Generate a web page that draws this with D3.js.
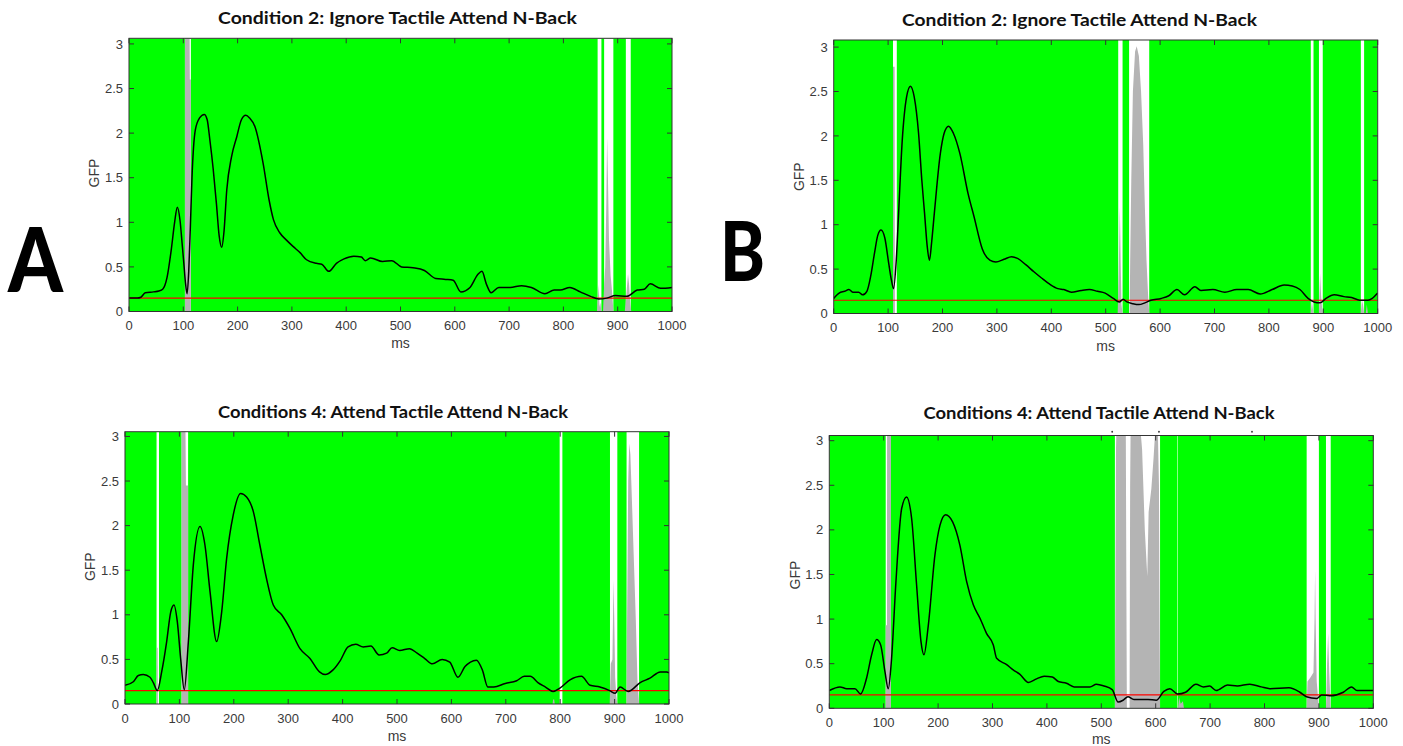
<!DOCTYPE html>
<html>
<head>
<meta charset="utf-8">
<script src="https://cdn.jsdelivr.net/npm/d3@7"></script>
<style>
  html, body { margin: 0; padding: 0; background: #fff; }
  svg { display: block; }
</style>
</head>
<body>
<svg id="chart" width="1403" height="746"></svg>
<script>
// ---------------- DATA ----------------
const xTicks = [0, 100, 200, 300, 400, 500, 600, 700, 800, 900, 1000];
const yTicks = [0, 0.5, 1, 1.5, 2, 2.5, 3];
const yTickLabels = ["0", "0.5", "1", "1.5", "2", "2.5", "3"];
const xLabel = "ms";
const yLabel = "GFP";
const threshold = 0.15;
const panelLetters = ["A", "B"];

const titleA1 = "Condition 2: Ignore Tactile Attend N-Back";
const titleB1 = "Condition 2: Ignore Tactile Attend N-Back";
const titleA2 = "Conditions 4: Attend Tactile Attend N-Back";
const titleB2 = "Conditions 4: Attend Tactile Attend N-Back";

// GFP traces [ms, value]
const gfpA1 = [[0,0.15],[15,0.15],[22,0.16],[30,0.21],[45,0.22],[55,0.23],[62,0.25],[70,0.38],[78,0.7],[84,1.0],[89,1.17],[94,1.02],[98,0.75],[101,0.54],[104,0.32],[107,0.2],[110,0.45],[113,0.95],[116,1.5],[122,2.03],[130,2.17],[138.7,2.21],[144,2.15],[149,1.92],[155,1.6],[161,1.21],[166,0.85],[170.7,0.72],[175,0.9],[180,1.36],[189,1.74],[198.5,1.96],[207,2.15],[215,2.2],[222,2.17],[232,2.07],[247,1.66],[258,1.25],[266,1.03],[278,0.88],[290,0.8],[302,0.73],[315,0.66],[327,0.58],[345,0.54],[355,0.53],[368,0.45],[382,0.54],[396,0.59],[414,0.62],[428,0.61],[435,0.57],[445,0.6],[467,0.56],[484,0.57],[502,0.5],[523,0.49],[544,0.46],[565,0.37],[583,0.36],[597,0.35],[611,0.22],[628,0.27],[643,0.42],[650,0.45],[658,0.31],[667,0.21],[681,0.27],[702,0.27],[723,0.29],[741,0.27],[766,0.2],[783,0.24],[794,0.24],[812,0.27],[831,0.22],[850,0.17],[865,0.14],[880,0.15],[896,0.18],[917,0.17],[936,0.24],[949,0.25],[960,0.31],[979,0.26],[1000,0.27]];

const gfpB1 = [[0,0.17],[10,0.23],[20,0.25],[28,0.27],[35,0.24],[46,0.24],[53,0.21],[61,0.25],[68,0.42],[75,0.68],[81,0.88],[87,0.94],[94,0.85],[101,0.57],[106,0.38],[110,0.28],[115,0.6],[119,1.09],[126,1.95],[134,2.44],[141,2.56],[148,2.44],[156,2.03],[162,1.5],[167,1.13],[172,0.75],[176,0.6],[180,0.8],[185,1.13],[196,1.8],[203,2.03],[211,2.11],[220,2.03],[232,1.8],[247,1.35],[258,1.09],[273,0.73],[287,0.6],[298,0.58],[313,0.61],[327,0.64],[338,0.62],[353,0.55],[368,0.47],[382,0.4],[397,0.33],[412,0.28],[423,0.27],[437,0.24],[455,0.26],[470,0.27],[485,0.25],[499,0.23],[514,0.17],[525,0.13],[532,0.16],[539,0.13],[550,0.11],[561,0.1],[572,0.12],[583,0.15],[602,0.17],[616,0.2],[631,0.27],[645,0.21],[664,0.3],[675,0.26],[697,0.27],[719,0.24],[741,0.27],[762,0.27],[784,0.22],[806,0.27],[828,0.32],[843,0.31],[857,0.27],[872,0.17],[883,0.13],[894,0.12],[905,0.17],[920,0.21],[938,0.19],[952,0.18],[967,0.15],[982,0.15],[990,0.17],[1000,0.23]];

const gfpA2 = [[0,0.21],[15.3,0.25],[24.5,0.32],[33.7,0.33],[46,0.3],[52,0.24],[59.4,0.15],[67.4,0.36],[76.6,0.7],[84,1.03],[90,1.11],[96.2,0.92],[102.3,0.51],[109,0.16],[116.5,0.7],[125.6,1.56],[137.9,1.99],[147,1.78],[156.3,1.26],[168.5,0.7],[177.7,1.03],[186.8,1.63],[199,2.12],[212.5,2.36],[223.5,2.32],[235.8,2.16],[248,1.78],[260,1.41],[272.6,1.11],[288,1.0],[303,0.85],[321.7,0.62],[340,0.51],[357.5,0.36],[368,0.33],[382,0.38],[396,0.49],[410,0.64],[424,0.67],[438,0.64],[452,0.65],[467,0.55],[481,0.57],[491,0.63],[505,0.6],[523,0.62],[537,0.57],[551,0.51],[565,0.45],[583,0.5],[597,0.47],[612,0.3],[625,0.42],[635,0.47],[646,0.49],[657,0.38],[667,0.19],[678,0.19],[699,0.23],[720,0.26],[734,0.31],[745,0.31],[759,0.24],[773,0.19],[787,0.14],[800,0.18],[818,0.27],[839,0.31],[855,0.21],[873,0.19],[891,0.15],[901,0.12],[910,0.19],[925,0.14],[947,0.24],[965,0.29],[984,0.36],[996,0.36],[1000,0.35]];

const gfpB2 = [[0,0.2],[19.6,0.24],[32,0.22],[47.2,0.22],[57.6,0.16],[68.6,0.34],[77.8,0.6],[87,0.77],[94.4,0.71],[102.3,0.41],[108.4,0.22],[114.5,0.56],[122.5,1.42],[133,2.24],[142,2.37],[151.3,2.13],[160.5,1.38],[168.5,0.75],[174,0.6],[182,0.93],[194.2,1.72],[203.4,2.05],[213.8,2.17],[226.7,2.09],[240,1.83],[252.5,1.42],[264.7,1.16],[277,1.01],[289,0.84],[301.5,0.71],[307.6,0.56],[326,0.49],[338,0.43],[350.5,0.38],[366,0.29],[381,0.33],[395,0.36],[410,0.35],[421,0.3],[436,0.28],[450,0.24],[469,0.24],[479,0.24],[491,0.27],[505,0.25],[520,0.21],[531,0.07],[540,0.09],[549,0.13],[560,0.1],[571,0.1],[586,0.1],[601,0.09],[615,0.19],[626,0.22],[640,0.16],[655,0.18],[674,0.27],[688,0.24],[699,0.25],[711,0.2],[732,0.26],[750,0.25],[773,0.27],[794,0.24],[810,0.22],[845,0.23],[865,0.18],[877,0.13],[896,0.11],[905,0.15],[920,0.14],[945,0.18],[960,0.24],[970,0.2],[988,0.2],[1000,0.2]];

// non-significant periods (white) [startMs, endMs]
const whiteA1 = [[103,114],[863,870],[875,892],[915,924]];
const whiteB1 = [[109,116],[523,531],[543,580],[877,882],[892,899],[969,975]];
const whiteA2 = [[58,62.5],[104,116],[799,804],[891.5,905],[922,945]];
const whiteB2 = [[103.7,113.4],[525,608],[640,641],[877.5,900],[913,921.7]];

// grey traces inside white periods, each a list of [ms, value]
const greyA1 = [
  [[103,3.2],[111.5,3.2],[112,2.6],[114,2.6]],
  [[862,0],[864,0.2],[865,0.3],[866.5,0.05],[868,0.1],[870,0]],
  [[873,0],[875,0.3],[877,0.5],[879,1.2],[880.5,1.95],[882,1.5],[884,0.8],[887,0.4],[890,0.2],[892,0]],
  [[913,0],[916,0.2],[919,0.42],[921,0.3],[923,0.1],[925,0]]
];
const greyB1 = [
  [[109,2.78],[112,2.78],[112.5,0],[113,0]],
  [[522,0],[524,0.5],[526,1.2],[527.5,0.6],[529,0.1],[531,0]],
  [[544,0],[545,0.6],[547,1.5],[550,2.5],[554,2.95],[557,3.01],[561,2.9],[565,2.5],[569,1.9],[572,1.2],[575,0.6],[578,0.2],[580,0]],
  [[877,0],[879,0.15],[881,0.05],[882,0]],
  [[892,0],[894,0.45],[896,0.2],[898,0.05],[899,0]],
  [[969,0],[971,0.15],[973,0.1],[975,0]],
  [[978,0],[980,0.1],[982,0]]
];
const greyA2 = [
  [[58,0.63],[60,0.63],[60.5,0]],
  [[104,3.2],[111,3.2],[112,2.45],[116,2.45]],
  [[786,0],[787,0.05],[789,0.05],[790,0]],
  [[891,0],[893,0.45],[896,0.5],[898,1.39],[899.5,0.9],[901,0.3],[903,0.1],[905,0]],
  [[922,0],[923,1.0],[925,2.5],[927,2.92],[929,2.8],[931,2.44],[935,1.69],[939,0.94],[942,0.27],[945,0]]
];
const greyB2 = [
  [[103.7,0.93],[106,0.93],[106.2,3.2],[113.4,3.2]],
  [[525,0],[526,1.5],[527,2.9],[528,3.2],[545,3.2],[546,1.5],[547,0]],
  [[552,0],[553,2.5],[554,3.2],[571,3.2],[575,2.9],[580,2.0],[584.5,1.48],[587,2.2],[592,2.46],[596,2.8],[600,3.2],[604,3.1],[606,2.5],[607,1],[608,0]],
  [[641,0],[643,0.12],[646,0.05],[650,0.08],[652,0]],
  [[877.5,0],[879,0.3],[885,0.35],[890,0.4],[892,1.0],[893,1.55],[894,1.0],[896,0.3],[900,0]],
  [[913,0],[915,0.5],[917,0.84],[919,0.4],[921.7,0]]
];
// stray marks above the top edge of the last panel [ms, value]
const strayB2 = [[520,3.1],[606,3.1],[777,3.1]];

// ---------------- LAYOUT / DRAW ----------------
const svg = d3.select("#chart");
svg.append("rect").attr("width",1403).attr("height",746).attr("fill","#fff");

const panels = [
  {gfp:gfpA1, white:whiteA1, grey:greyA1, stray:[], title:titleA1,
   box:{l:129,r:672,t:38.3,b:311.5,ymax:3.063}, titleX:397.5, titleY:24, titleW:359, gfpX:99, gfpY:173, msY:347.5},
  {gfp:gfpB1, white:whiteB1, grey:greyB1, stray:[], title:titleB1,
   box:{l:833.7,r:1377.7,t:40,b:313.5,ymax:3.08}, titleX:1079.5, titleY:25.5, titleW:355, gfpX:803.5, gfpY:176.7, msY:351},
  {gfp:gfpA2, white:whiteA2, grey:greyA2, stray:[], title:titleA2,
   box:{l:125,r:669,t:431.7,b:704,ymax:3.053}, titleX:393, titleY:417.5, titleW:350, gfpX:95, gfpY:566.7, msY:741},
  {gfp:gfpB2, white:whiteB2, grey:greyB2, stray:strayB2, title:titleB2,
   box:{l:829.3,r:1373.3,t:435.5,b:708.3,ymax:3.058}, titleX:1099, titleY:419, titleW:351, gfpX:799.5, gfpY:575, msY:744}
];

const tickFont = "'Liberation Sans', Arial, Helvetica, sans-serif";
const axisColor = "#333333";
const labelColor = "#3a3a3a";

panels.forEach((p, i) => {
  const b = p.box;
  const x = d3.scaleLinear().domain([0, 1000]).range([b.l, b.r]);
  const y = d3.scaleLinear().domain([0, b.ymax]).range([b.b, b.t]);
  const g = svg.append("g");
  const clipId = "clip" + i;
  g.append("clipPath").attr("id", clipId)
    .append("rect").attr("x", b.l).attr("y", b.t).attr("width", b.r - b.l).attr("height", b.b - b.t);

  const plot = g.append("g").attr("clip-path", `url(#${clipId})`);
  plot.append("rect").attr("x", b.l).attr("y", b.t).attr("width", b.r - b.l).attr("height", b.b - b.t)
    .attr("fill", "#00ff00");
  plot.selectAll("rect.w").data(p.white).enter().append("rect").attr("class","w")
    .attr("x", d => x(d[0])).attr("width", d => x(d[1]) - x(d[0]))
    .attr("y", b.t).attr("height", b.b - b.t).attr("fill", "#ffffff");
  const area = d3.area().x(d => x(d[0])).y0(y(0)).y1(d => y(d[1]));
  plot.selectAll("path.grey").data(p.grey).enter().append("path").attr("class","grey")
    .attr("d", area).attr("fill", "#b4b4b4");
  plot.append("line").attr("x1", b.l).attr("x2", b.r)
    .attr("y1", y(threshold)).attr("y2", y(threshold))
    .attr("stroke", "#ff0000").attr("stroke-width", 1.1);
  const line = d3.line().x(d => x(d[0])).y(d => y(d[1])).curve(d3.curveMonotoneX);
  plot.append("path").datum(p.gfp).attr("d", line).attr("fill", "none")
    .attr("stroke", "#000").attr("stroke-width", 1.5).attr("stroke-linejoin","round");

  g.selectAll("circle.stray").data(p.stray).enter().append("circle").attr("class","stray")
    .attr("cx", d => x(d[0])).attr("cy", d => y(d[1])).attr("r", 0.9).attr("fill", "#333");

  // axes (MATLAB-style box with inward ticks on all sides)
  const ax = g.append("g");
  ax.append("rect").attr("x", b.l).attr("y", b.t).attr("width", b.r - b.l).attr("height", b.b - b.t)
    .attr("fill", "none").attr("stroke", axisColor).attr("stroke-width", 1);
  const tl = 5;
  xTicks.forEach(v => {
    ax.append("line").attr("x1", x(v)).attr("x2", x(v)).attr("y1", b.b).attr("y2", b.b - tl).attr("stroke", axisColor);
    ax.append("line").attr("x1", x(v)).attr("x2", x(v)).attr("y1", b.t).attr("y2", b.t + tl).attr("stroke", axisColor);
    ax.append("text").attr("x", x(v)).attr("y", b.b + 18.5).attr("text-anchor", "middle")
      .attr("font-family", tickFont).attr("font-size", 13).attr("fill", labelColor).text(v);
  });
  yTicks.forEach((v, k) => {
    ax.append("line").attr("x1", b.l).attr("x2", b.l + tl).attr("y1", y(v)).attr("y2", y(v)).attr("stroke", axisColor);
    ax.append("line").attr("x1", b.r).attr("x2", b.r - tl).attr("y1", y(v)).attr("y2", y(v)).attr("stroke", axisColor);
    ax.append("text").attr("x", b.l - 6).attr("y", y(v) + 4.6).attr("text-anchor", "end")
      .attr("font-family", tickFont).attr("font-size", 13).attr("fill", labelColor).text(yTickLabels[k]);
  });
  ax.append("text").attr("x", (b.l + b.r) / 2).attr("y", p.msY).attr("text-anchor", "middle")
    .attr("font-family", tickFont).attr("font-size", 14).attr("fill", labelColor).text(xLabel);
  ax.append("text").attr("transform", `translate(${p.gfpX},${p.gfpY}) rotate(-90)`).attr("text-anchor", "middle")
    .attr("font-family", tickFont).attr("font-size", 14).attr("fill", labelColor).text(yLabel);

  g.append("text").attr("x", p.titleX).attr("y", p.titleY).attr("text-anchor", "middle")
    .attr("font-family", "Lato, 'Open Sans', sans-serif").attr("font-weight", 700).attr("font-size", 17)
    .attr("textLength", p.titleW).attr("lengthAdjust", "spacingAndGlyphs")
    .attr("fill", "#111").text(p.title);
});

// Panel letters
svg.append("text").attr("x", 8).attr("y", 292)
  .attr("font-family", "Lato, 'Open Sans', sans-serif").attr("font-weight", 900).attr("font-size", 89)
  .attr("textLength", 55).attr("lengthAdjust", "spacingAndGlyphs")
  .attr("fill", "#000").text(panelLetters[0]);
svg.append("text").attr("x", 720).attr("y", 281)
  .attr("font-family", "Lato, 'Open Sans', sans-serif").attr("font-weight", 900).attr("font-size", 82)
  .attr("textLength", 45).attr("lengthAdjust", "spacingAndGlyphs")
  .attr("fill", "#000").text(panelLetters[1]);
</script>
</body>
</html>
